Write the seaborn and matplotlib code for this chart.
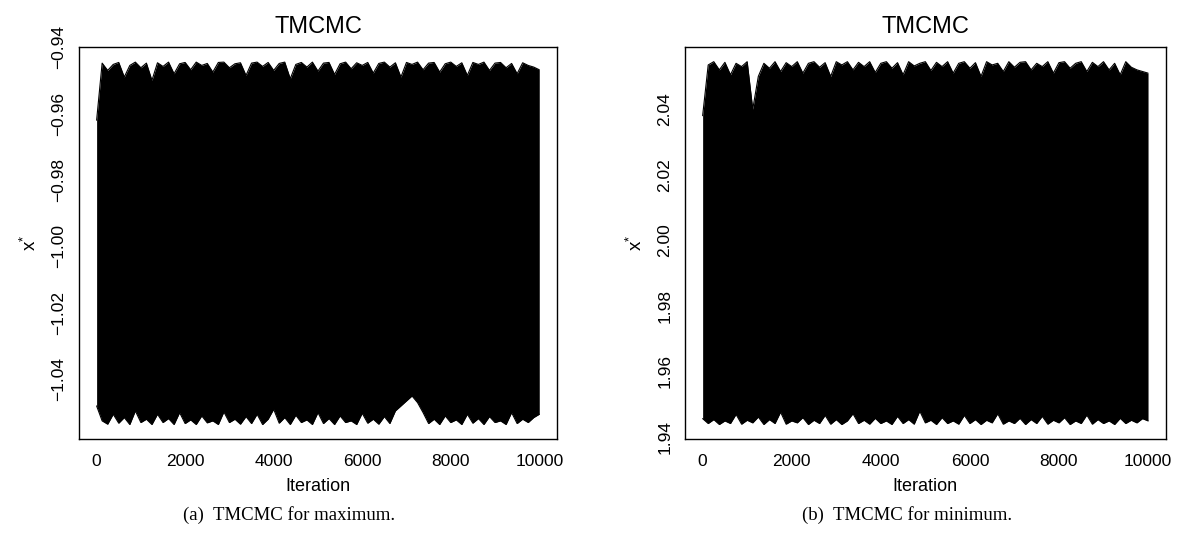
import numpy as np
import seaborn as sns
import matplotlib.pyplot as plt

# --- data (envelope of the chain every 125 iterations) ---
iteration_grid = np.linspace(0, 10000, 81)

max_upper = [-0.9620, -0.9448, -0.9470, -0.9452, -0.9446, -0.9490, -0.9455, -0.9445, -0.9462, -0.9448,
             -0.9500, -0.9447, -0.9458, -0.9445, -0.9480, -0.9450, -0.9446, -0.9468, -0.9445, -0.9455,
             -0.9449, -0.9475, -0.9446, -0.9445, -0.9462, -0.9450, -0.9447, -0.9485, -0.9448, -0.9445,
             -0.9458, -0.9446, -0.9470, -0.9449, -0.9445, -0.9495, -0.9452, -0.9446, -0.9460, -0.9445,
             -0.9472, -0.9448, -0.9446, -0.9482, -0.9450, -0.9445, -0.9465, -0.9447, -0.9455, -0.9446,
             -0.9478, -0.9449, -0.9445, -0.9460, -0.9447, -0.9490, -0.9446, -0.9452, -0.9445, -0.9468,
             -0.9448, -0.9446, -0.9475, -0.9450, -0.9445, -0.9458, -0.9447, -0.9485, -0.9446, -0.9452,
             -0.9445, -0.9470, -0.9448, -0.9446, -0.9462, -0.9449, -0.9480, -0.9447, -0.9455, -0.9460,
             -0.9468]
max_lower = [-1.0480, -1.0525, -1.0535, -1.0505, -1.0532, -1.0515, -1.0536, -1.0495, -1.0530, -1.0520,
             -1.0536, -1.0505, -1.0530, -1.0518, -1.0536, -1.0500, -1.0533, -1.0522, -1.0536, -1.0510,
             -1.0531, -1.0525, -1.0536, -1.0498, -1.0530, -1.0520, -1.0535, -1.0512, -1.0533, -1.0505,
             -1.0536, -1.0520, -1.0490, -1.0532, -1.0515, -1.0536, -1.0508, -1.0530, -1.0522, -1.0536,
             -1.0500, -1.0533, -1.0518, -1.0536, -1.0510, -1.0530, -1.0525, -1.0536, -1.0502, -1.0532,
             -1.0520, -1.0535, -1.0512, -1.0533, -1.0495, -1.0480, -1.0465, -1.0450, -1.0470, -1.0500,
             -1.0533, -1.0520, -1.0536, -1.0510, -1.0530, -1.0522, -1.0536, -1.0505, -1.0532, -1.0518,
             -1.0536, -1.0512, -1.0530, -1.0525, -1.0536, -1.0500, -1.0533, -1.0520, -1.0530, -1.0515,
             -1.0505]

min_upper = [2.0380, 2.0535, 2.0545, 2.0520, 2.0543, 2.0505, 2.0540, 2.0530, 2.0545, 2.0400,
             2.0500, 2.0540, 2.0525, 2.0545, 2.0515, 2.0542, 2.0530, 2.0545, 2.0510, 2.0540,
             2.0545, 2.0528, 2.0542, 2.0500, 2.0545, 2.0535, 2.0545, 2.0520, 2.0543, 2.0530,
             2.0545, 2.0512, 2.0540, 2.0545, 2.0525, 2.0542, 2.0505, 2.0545, 2.0532, 2.0540,
             2.0545, 2.0518, 2.0543, 2.0530, 2.0545, 2.0510, 2.0540, 2.0545, 2.0525, 2.0542,
             2.0500, 2.0545, 2.0535, 2.0540, 2.0515, 2.0545, 2.0528, 2.0543, 2.0545, 2.0520,
             2.0540, 2.0530, 2.0545, 2.0510, 2.0542, 2.0545, 2.0525, 2.0540, 2.0545, 2.0515,
             2.0543, 2.0530, 2.0545, 2.0520, 2.0540, 2.0505, 2.0545, 2.0528, 2.0520, 2.0515,
             2.0510]
min_lower = [1.9455, 1.9440, 1.9452, 1.9437, 1.9448, 1.9440, 1.9468, 1.9438, 1.9450, 1.9442,
             1.9460, 1.9437, 1.9452, 1.9440, 1.9475, 1.9438, 1.9448, 1.9442, 1.9458, 1.9437,
             1.9450, 1.9440, 1.9465, 1.9438, 1.9452, 1.9437, 1.9448, 1.9470, 1.9440, 1.9450,
             1.9438, 1.9456, 1.9440, 1.9448, 1.9437, 1.9462, 1.9440, 1.9452, 1.9438, 1.9478,
             1.9442, 1.9450, 1.9437, 1.9458, 1.9440, 1.9448, 1.9438, 1.9465, 1.9440, 1.9452,
             1.9437, 1.9450, 1.9442, 1.9470, 1.9438, 1.9448, 1.9440, 1.9456, 1.9437, 1.9452,
             1.9440, 1.9462, 1.9438, 1.9450, 1.9442, 1.9458, 1.9437, 1.9448, 1.9440, 1.9466,
             1.9438, 1.9452, 1.9440, 1.9448, 1.9437, 1.9456, 1.9440, 1.9450, 1.9442, 1.9455,
             1.9448]

max_yticks = [-0.94, -0.96, -0.98, -1.00, -1.02, -1.04]
min_yticks = [1.94, 1.96, 1.98, 2.00, 2.02, 2.04]
x_ticks = [0, 2000, 4000, 6000, 8000, 10000]
captions = ["(a)  TMCMC for maximum.", "(b)  TMCMC for minimum."]


def draw_trace(ax, upper, lower, yticks):
    ax.fill_between(iteration_grid, lower, upper, color="black", lw=0)
    sns.lineplot(x=iteration_grid, y=upper, color="black", lw=0.8, ax=ax)
    sns.lineplot(x=iteration_grid, y=lower, color="black", lw=0.8, ax=ax)

    lo = min(lower)
    hi = max(upper)
    pad = 0.04 * (hi - lo)
    ax.set_ylim(lo - pad, hi + pad)
    ax.set_xlim(-399, 10399)

    ax.set_xticks(x_ticks)
    ax.set_xticklabels([str(t) for t in x_ticks])
    ax.set_yticks(yticks)
    ax.set_yticklabels([f"{t:.2f}".replace("-", "\u2212") for t in yticks],
                       rotation=90, va="center")
    ax.tick_params(axis="both", direction="out", length=6, width=0.9,
                   labelsize=12.5, colors="black", pad=3)
    ax.tick_params(axis="x", pad=5)
    for s in ax.spines.values():
        s.set_color("black")
        s.set_linewidth(1.0)

    ax.set_title("TMCMC", fontsize=17, pad=10, color="black")
    ax.set_xlabel("Iteration", fontsize=13, labelpad=6, color="black")
    ax.set_ylabel(r"$\mathregular{x^{*}}$", fontsize=13.5, labelpad=8, color="black")


def main():
    sns.set_theme(style="white")
    plt.rcParams["font.family"] = ["Liberation Sans", "DejaVu Sans"]
    plt.rcParams["text.color"] = "black"
    plt.rcParams["axes.labelcolor"] = "black"

    fig = plt.figure(figsize=(11.89, 5.39), dpi=100)
    ax_max = fig.add_axes([0.0664, 0.1855, 0.402, 0.727])
    ax_min = fig.add_axes([0.576, 0.1855, 0.4045, 0.727])

    draw_trace(ax_max, max_upper, max_lower, max_yticks)
    draw_trace(ax_min, min_upper, min_lower, min_yticks)

    for xc, cap in zip([0.243, 0.763], captions):
        fig.text(xc, 1 - 515 / 539, cap, ha="center", va="center",
                 fontsize=13.5, family="Liberation Serif", color="black")

    fig.savefig("out.png", dpi=100)


if __name__ == "__main__":
    main()
